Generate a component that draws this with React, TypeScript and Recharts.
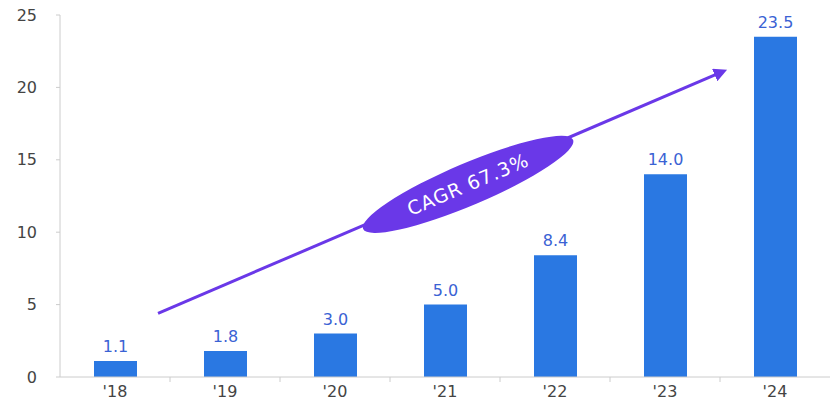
import React from 'react';
import {
  BarChart,
  Bar,
  XAxis,
  YAxis,
  LabelList,
  ReferenceLine,
  ReferenceDot,
} from 'recharts';

const years = ["'18", "'19", "'20", "'21", "'22", "'23", "'24"];
const values = [1.1, 1.8, 3.0, 5.0, 8.4, 14.0, 23.5];
const yTicks = [0, 5, 10, 15, 20, 25];

// trend arrow and badge; x runs 0..6 across the whole plot width
const arrowFrom = { x: 0.764, y: 4.4 };
const arrowTo = { x: 5.14, y: 21.0 };
const badgeAt = { x: 3.18, y: 13.3 };
const badgeText = 'CAGR 67.3%';

const data = years.map((year, i) => ({ year, value: values[i] }));

const FONT = '"DejaVu Sans", sans-serif';
const BAR = '#2a78e2';
const LABEL = '#3a62d4';
const PURPLE = '#6a38e8';
const AXIS = '#cccccc';

function XTick(props: any) {
  const { x, y, payload, index } = props;
  const half = 55;
  return (
    <g>
      {index < years.length - 1 && (
        <line x1={x + half} x2={x + half} y1={y - 9} y2={y - 4} stroke={AXIS} />
      )}
      <text
        x={x}
        y={y}
        dy="0.71em"
        textAnchor="middle"
        fill="#444"
        fontSize={16}
        fontFamily={FONT}
      >
        {payload.value}
      </text>
    </g>
  );
}

function Arrow(props: any) {
  const { x1, y1, x2, y2 } = props;
  return (
    <line
      x1={x1}
      y1={y1}
      x2={x2}
      y2={y2}
      stroke={PURPLE}
      strokeWidth={3}
      markerEnd="url(#arrowHead)"
    />
  );
}

function Badge(props: any) {
  const { cx, cy } = props;
  if (cx == null || cy == null) return null;
  return (
    <g transform={`translate(${cx},${cy}) rotate(-23)`}>
      <ellipse cx={0} cy={0} rx={114} ry={21} fill={PURPLE} />
      <text
        x={0}
        y={0}
        dy="0.35em"
        textAnchor="middle"
        fill="#fff"
        fontSize={19}
        fontFamily={FONT}
        letterSpacing={1}
      >
        {badgeText}
      </text>
    </g>
  );
}

export default function App() {
  return (
    <div style={{ width: 830, height: 402, background: '#fff' }}>
      <style>{`body{margin:0}`}</style>
      <BarChart
        width={830}
        height={402}
        data={data}
        margin={{ top: 15, right: 0, bottom: 0, left: 0 }}
      >
        <defs>
          <marker
            id="arrowHead"
            viewBox="0 0 10 10"
            refX="4"
            refY="5"
            markerWidth="4.5"
            markerHeight="4.5"
            orient="auto"
            markerUnits="strokeWidth"
          >
            <path d="M0,0 L10,5 L0,10 z" fill={PURPLE} />
          </marker>
        </defs>
        <XAxis
          dataKey="year"
          height={25}
          stroke={AXIS}
          tickLine={false}
          tickMargin={9}
          tickSize={0}
          tick={<XTick />}
        />
        <XAxis
          xAxisId="num"
          type="number"
          domain={[0, 6]}
          allowDataOverflow
          hide
        />
        <YAxis
          width={60}
          domain={[0, 25]}
          ticks={yTicks}
          interval={0}
          stroke={AXIS}
          tickSize={4}
          tickMargin={19}
          tick={{ fill: '#444', fontSize: 16, fontFamily: FONT }}
        />
        <Bar dataKey="value" fill={BAR} barSize={43} isAnimationActive={false}>
          <LabelList
            dataKey="value"
            position="top"
            offset={9}
            fill={LABEL}
            fontSize={16}
            fontFamily={FONT}
            formatter={(v: any) => Number(v).toFixed(1)}
          />
        </Bar>
        <ReferenceLine
          xAxisId="num"
          segment={[arrowFrom, arrowTo]}
          ifOverflow="visible"
          shape={<Arrow />}
        />
        <ReferenceDot
          xAxisId="num"
          x={badgeAt.x}
          y={badgeAt.y}
          ifOverflow="visible"
          shape={<Badge />}
        />
      </BarChart>
    </div>
  );
}
